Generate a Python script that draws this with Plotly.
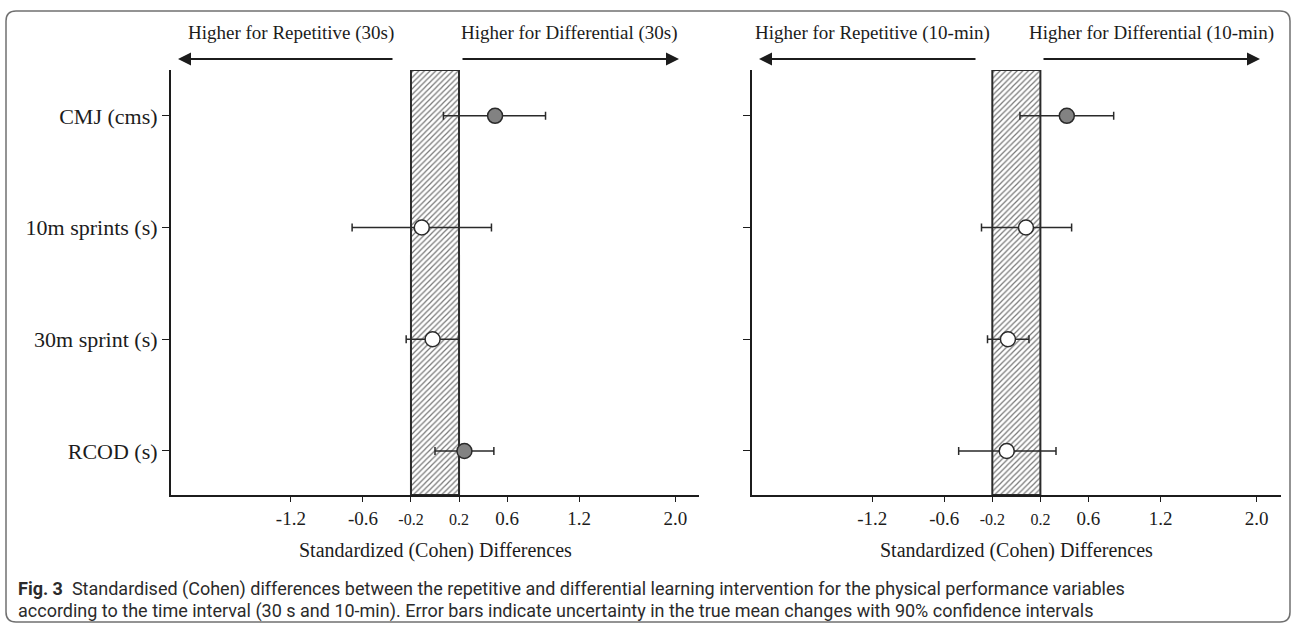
import plotly.graph_objects as go

# ---------------- data ----------------
categories = ["CMJ (cms)", "10m sprints (s)", "30m sprint (s)", "RCOD (s)"]

# 30 s interval
es_30s = [0.50, -0.11, -0.02, 0.245]
lo_30s = [0.07, -0.69, -0.24, 0.00]
hi_30s = [0.92, 0.47, 0.195, 0.49]
fill_30s = ["grey", "white", "white", "grey"]

# 10-min interval
es_10m = [0.42, 0.08, -0.07, -0.08]
lo_10m = [0.03, -0.29, -0.24, -0.48]
hi_10m = [0.81, 0.46, 0.105, 0.33]
fill_10m = ["grey", "white", "white", "white"]

trivial_lo, trivial_hi = -0.2, 0.2
x_tickvals = [-1.2, -0.6, -0.2, 0.2, 0.6, 1.2, 2.0]
x_ticktext = ["-1.2", "-0.6", "<span style='font-size:16px'>-0.2</span>",
              "<span style='font-size:16px'>0.2</span>", "0.6", "1.2", "2.0"]

# ---------------- layout constants ----------------
W, H = 1296, 626
SERIF = "Liberation Serif, Times New Roman, serif"
INK = "#1c1c1c"
X_RANGE = [-2.2, 2.2]
Y_RANGE = [-0.394, 3.41]

def px_x(p):
    return p / W

def px_y(p):
    return (H - p) / H

y_pos = [len(categories) - 1 - i for i in range(len(categories))]
color_map = {"grey": "#828282", "white": "#ffffff"}

fig = go.Figure()

panels = [
    ("x", "y", es_30s, lo_30s, hi_30s, fill_30s),
    ("x2", "y2", es_10m, lo_10m, hi_10m, fill_10m),
]

for xa, ya, es, lo, hi, fills in panels:
    # trivial-effect hatched region
    fig.add_trace(go.Scatter(
        x=[trivial_lo, trivial_lo, trivial_hi, trivial_hi, trivial_lo],
        y=[Y_RANGE[0], Y_RANGE[1], Y_RANGE[1], Y_RANGE[0], Y_RANGE[0]],
        xaxis=xa, yaxis=ya, mode="lines", fill="toself",
        fillcolor="white",
        fillpattern=dict(shape="/", fgcolor="#777777", bgcolor="white",
                         size=4, solidity=0.3, fillmode="replace"),
        line=dict(color="#2a2a2a", width=2),
        hoverinfo="skip", showlegend=False,
    ))
    # effect sizes with CIs
    fig.add_trace(go.Scatter(
        x=es, y=y_pos, xaxis=xa, yaxis=ya, mode="markers",
        marker=dict(size=15, color=[color_map[f] for f in fills],
                    line=dict(color="#2a2a2a", width=1.5)),
        error_x=dict(type="data", symmetric=False,
                     array=[h - e for h, e in zip(hi, es)],
                     arrayminus=[e - l for e, l in zip(es, lo)],
                     color="#2a2a2a", thickness=1.5, width=4),
        showlegend=False,
    ))

axis_common_x = dict(
    range=X_RANGE, tickvals=x_tickvals, ticktext=x_ticktext,
    showline=True, linecolor=INK, linewidth=1.5,
    ticks="outside", ticklen=5, tickwidth=1.2, tickcolor=INK,
    showgrid=False, zeroline=False,
    tickfont=dict(family=SERIF, size=19, color=INK),
)
axis_common_y = dict(
    range=Y_RANGE, tickvals=y_pos, ticktext=categories,
    showline=True, linecolor=INK, linewidth=1.5,
    ticks="outside", ticklen=7, tickwidth=1.2, tickcolor=INK,
    showgrid=False, zeroline=False,
    tickfont=dict(family=SERIF, size=22, color=INK),
    domain=[px_y(495), px_y(70)],
)

fig.update_layout(
    width=W, height=H,
    margin=dict(l=0, r=0, t=0, b=0),
    paper_bgcolor="white", plot_bgcolor="white",
    xaxis=dict(axis_common_x, domain=[px_x(170.7), px_x(699.3)], anchor="y"),
    yaxis=dict(axis_common_y, anchor="x"),
    xaxis2=dict(axis_common_x, domain=[px_x(752), px_x(1280.7)], anchor="y2"),
    yaxis2=dict(axis_common_y, anchor="x2", showticklabels=False),
)

annotations = []
# direction labels and arrows
labels = [
    ("Higher for Repetitive (30s)", 290.5, 178, 394),
    ("Higher for Differential (30s)", 569, 679, 461),
    ("Higher for Repetitive (10-min)", 872, 759, 977),
    ("Higher for Differential (10-min)", 1151, 1260, 1042),
]
for text, cx, head, tail in labels:
    annotations.append(dict(
        text=text, x=px_x(cx), y=px_y(33), xref="paper", yref="paper",
        showarrow=False, font=dict(family=SERIF, size=19, color=INK),
        xanchor="center", yanchor="middle"))
    annotations.append(dict(
        text="", x=px_x(head), y=px_y(59), xref="paper", yref="paper",
        showarrow=True, axref="pixel", ayref="pixel", ax=tail - head, ay=0,
        arrowhead=2, arrowsize=1.3, arrowwidth=2, arrowcolor=INK))

# axis titles
for cx in [(170.7 + 699.3) / 2, (752 + 1280.7) / 2]:
    annotations.append(dict(
        text="Standardized (Cohen) Differences", x=px_x(cx), y=px_y(550),
        xref="paper", yref="paper", showarrow=False,
        font=dict(family=SERIF, size=20, color=INK),
        xanchor="center", yanchor="middle"))

# caption
cap1 = ("<b>Fig. 3</b>  Standardised (Cohen) differences between the repetitive and differential "
        "learning intervention for the physical performance variables")
cap2 = ("according to the time interval (30 s and 10-min). Error bars indicate uncertainty in the "
        "true mean changes with 90% confidence intervals")
for txt, yy in [(cap1, 589), (cap2, 611)]:
    annotations.append(dict(
        text=txt, x=px_x(16), y=px_y(yy), xref="paper", yref="paper",
        showarrow=False, font=dict(family="Roboto, sans-serif", size=18, color="#2b2b2b"),
        xanchor="left", yanchor="middle"))

fig.update_layout(annotations=annotations)

# outer rounded frame
x0, x1, y0, y1 = px_x(6), px_x(1290), px_y(11), px_y(622)
rx, ry = 10 / W, 10 / H
path = (f"M {x0+rx},{y0} L {x1-rx},{y0} Q {x1},{y0} {x1},{y0-ry} "
        f"L {x1},{y1+ry} Q {x1},{y1} {x1-rx},{y1} L {x0+rx},{y1} "
        f"Q {x0},{y1} {x0},{y1+ry} L {x0},{y0-ry} Q {x0},{y0} {x0+rx},{y0} Z")
fig.add_shape(type="path", path=path, xref="paper", yref="paper",
              line=dict(color="#707070", width=1.5), layer="below")

fig.write_html("out.html", config={"displayModeBar": False},
               post_script="document.body.style.margin='0';document.body.style.overflow='hidden';")
